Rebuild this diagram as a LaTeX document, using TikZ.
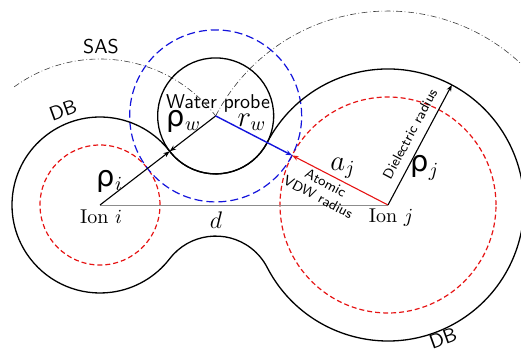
\documentclass[tikz,border=0pt]{standalone}
\usepackage{fontspec}
\usepackage{tikz}
\usetikzlibrary{arrows.meta,calc}
\newfontfamily\greekfont{DejaVu Sans}
\definecolor{vdwred}{RGB}{230,20,20}
\definecolor{probeblue}{RGB}{20,20,220}
\definecolor{sasgrey}{RGB}{60,60,60}
\definecolor{axisgrey}{RGB}{140,140,140}
\tikzset{
  surf/.style={draw=black, line width=0.65pt},
  vdw/.style={draw=vdwred, line width=0.6pt, dash pattern=on 2.5pt off 1.5pt},
  shell/.style={draw=probeblue, line width=0.6pt, dash pattern=on 4pt off 2pt},
  sas/.style={draw=sasgrey, line width=0.3pt, dash pattern=on 3pt off 1.2pt on 0.4pt off 1.2pt},
  arr/.style={-{Stealth[length=3.2pt,width=2.4pt]}, line width=0.55pt},
  lbl/.style={font=\sffamily, inner sep=1pt},
  tag/.style={font=\sffamily\scriptsize, inner sep=1pt, align=center},
  sym/.style={font=\Large, inner sep=0.5pt},
}

\begin{document}
\begin{tikzpicture}[x=0.5pt,y=0.5pt]
  \useasboundingbox (0,0) rectangle (521,350);
  \clip (0,0) rectangle (521,350);
  % ion centres, probe positions and contact points
  \coordinate (I) at (100,145);
  \coordinate (J) at (388,145);
  \coordinate (W) at ($(I)+(37.6:146)$);
  \coordinate (Wb) at ($(I)+(-37.6:146)$);
  \coordinate (tI) at ($(I)+(37.6:88)$);
  \coordinate (tJ) at ($(J)+(152.66:108)$);
  \coordinate (dJ) at ($(J)+(62:136)$);
  % SAS
  \draw[sas] ($(I)+(126:146)$) arc[start angle=126, end angle=37.6, radius=146];
  \draw[sas] (W) arc[start angle=152.66, end angle=46, radius=194];
  % VDW spheres and probe shell
  \draw[vdw] (I) circle[radius=60];
  \draw[vdw] (J) circle[radius=108];
  \draw[shell] (W) circle[radius=86];
  % DB
  \draw[surf] (tI) arc[start angle=37.6, end angle=322.4, radius=88]
    arc[start angle=142.4, end angle=27.34, radius=58]
    arc[start angle=207.34, end angle=512.66, radius=136]
    arc[start angle=332.66, end angle=217.6, radius=58] -- cycle;
  \draw[surf] (W) circle[radius=58];
  % radii
  \draw[axisgrey, line width=0.3pt] (I) -- (J);
  \draw[arr] (I) -- (tI);
  \draw[arr] (W) -- (tI);
  \draw[arr, draw=probeblue, line width=0.7pt] (W) -- (tJ);
  \draw[arr, draw=vdwred] (J) -- (tJ);
  \draw[arr] (J) -- (dJ);
  % labels
  \node[lbl] (sasl) at (101,303) {SAS};
  \node[lbl, rotate=20] (dbl) at (63,240) {DB};
  \node[lbl, rotate=20] (dbr) at (443,12) {DB};
  \node[lbl] (wp) at (218,247) {Water probe};
  \node[sym] (rhow) at (184,229) {{\greekfont ρ}$_w$};
  \node[sym] (rw) at (252,228) {$r_w$};
  \node[sym] (rhoi) at (110,169) {{\greekfont ρ}$_i$};
  \node[sym] (rhoj) at (425,182) {{\greekfont ρ}$_j$};
  \node[sym] (aj) at (343,182) {$a_j$};
  \node[sym, font=\large] (dd) at (216,130) {$d$};
  \node[inner sep=1pt] (ioni) at (101,133) {Ion $i$};
  \node[inner sep=1pt] (ionj) at (391,132) {Ion $j$};
  \node[tag, rotate=62] (diel) at (410,216) {Dielectric radius};
  \node[tag, rotate=-28] (atom) at (322,160) {Atomic\\VDW radius};
\end{tikzpicture}
\end{document}
